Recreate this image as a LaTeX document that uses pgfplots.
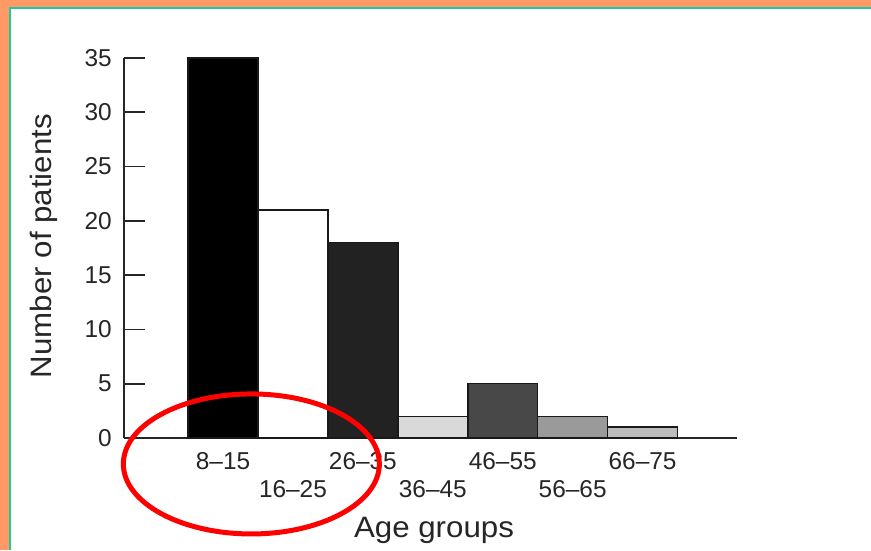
\documentclass[border=0pt]{standalone}
\usepackage{pgfplots}
\pgfplotsset{compat=1.18}
\usepackage{fontspec}
\setmainfont{Liberation Sans}
\newfontfamily\labelfont[FakeStretch=1.06]{Liberation Sans}
\definecolor{bgorange}{HTML}{FF9966}
\definecolor{bgteal}{HTML}{20C9A0}
\definecolor{cA}{HTML}{000000}
\definecolor{cB}{HTML}{FFFFFF}
\definecolor{cC}{HTML}{222222}
\definecolor{cD}{HTML}{D9D9D9}
\definecolor{cE}{HTML}{484848}
\definecolor{cF}{HTML}{9A9A9A}
\definecolor{cG}{HTML}{BCBCBC}
\begin{document}
\begin{tikzpicture}
\useasboundingbox (0pt,0pt) rectangle (871pt,550pt);
\fill[bgorange] (0pt,0pt) rectangle (871pt,550pt);
\fill[bgteal] (9pt,0pt) rectangle (871pt,543pt);
\fill[white] (11pt,0pt) rectangle (871pt,541pt);
\begin{axis}[
  at={(124pt,112pt)}, anchor=south west,
  scale only axis, width=613pt, height=380pt,
  xmin=-1.416, xmax=7.35, ymin=0, ymax=35,
  axis x line*=bottom, axis y line*=left,
  axis line style={-, line width=1.8pt, black!85},
  ytick={0,5,...,35},
  major tick length=0pt,
  ytick style={draw=none},
  xtick={0,2,4,6},
  xticklabels={8--15,26--35,46--55,66--75},
  extra x ticks={1,3,5},
  extra x tick labels={16--25,36--45,56--65},
  xtick style={draw=none},
  extra x tick style={xtick style={draw=none}, xticklabel style={yshift=-28pt}},
  /pgf/number format/assume math mode=true,
  ticklabel style={font=\fontsize{24.4}{28}\selectfont, text=black!85},
  xticklabel style={anchor=north, inner sep=0pt, yshift=-14pt},
  yticklabel style={anchor=east, inner sep=0pt, xshift=-12pt},
  xlabel={Age groups},
  ylabel={Number of patients},
  label style={font=\labelfont\fontsize{29.5}{34}\selectfont, text=black!85},
  xlabel style={at={(axis description cs:0.5057,-0.262)}, anchor=base},
  ylabel style={at={(axis description cs:-0.118,0.505)}, anchor=base},
  clip=false,
]
\addplot[ybar, bar width=1, bar shift=0pt, fill=cA, draw=black!90, line width=1.5pt] coordinates {(0,35)};
\addplot[ybar, bar width=1, bar shift=0pt, fill=cB, draw=black!90, line width=1.5pt] coordinates {(1,21)};
\addplot[ybar, bar width=1, bar shift=0pt, fill=cC, draw=black!90, line width=1.5pt] coordinates {(2,18)};
\addplot[ybar, bar width=1, bar shift=0pt, fill=cD, draw=black!90, line width=1.5pt] coordinates {(3,2)};
\addplot[ybar, bar width=1, bar shift=0pt, fill=cE, draw=black!90, line width=1.5pt] coordinates {(4,5)};
\addplot[ybar, bar width=1, bar shift=0pt, fill=cF, draw=black!90, line width=1.5pt] coordinates {(5,2)};
\addplot[ybar, bar width=1, bar shift=0pt, fill=cG, draw=black!90, line width=1.5pt] coordinates {(6,1)};
\pgfplotsinvokeforeach{5,10,15,20,25,30,35}{
  \draw[line width=1.8pt, black!85] (axis cs:-1.416,#1) -- ++(21pt,0pt);
}
\coordinate (ec) at (axis cs:0.405,-2.39);
\end{axis}
\draw[red, line width=5pt] (ec) ellipse [x radius=128pt, y radius=70pt];
\end{tikzpicture}
\end{document}
